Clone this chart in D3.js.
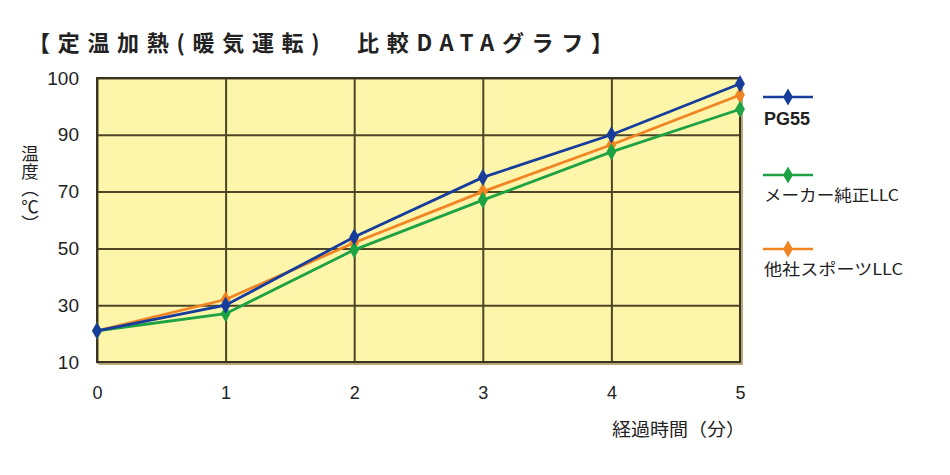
<!DOCTYPE html>
<html>
<head>
<meta charset="utf-8">
<script src="https://cdn.jsdelivr.net/npm/d3@7"></script>
<style>
  body { margin: 0; background: #fff; }
  svg text { font-family: "Liberation Sans", Arial, "Noto Sans CJK JP", sans-serif; fill: #222; }
  .jp { font-family: "Noto Sans CJK JP", sans-serif; }
</style>
</head>
<body>
<svg width="950" height="475"></svg>
<script>
// data
var minutes = [0, 1, 2, 3, 4, 5];
var yTicks = [10, 30, 50, 70, 90, 100];
var pg55 = [21, 30, 54, 75, 90, 99];
var makerLLC = [21, 27, 49.5, 67, 84, 94.5];
var sportsLLC = [21, 32, 52, 70, 86.5, 97];

var seriesNames = ["PG55", "メーカー純正LLC", "他社スポーツLLC"];
var seriesColors = ["#173d9c", "#1ea344", "#f18423"];

var svg = d3.select("svg"),
    margin = {top: 78, right: 210, bottom: 113, left: 97},
    width = 950 - margin.left - margin.right,
    height = 475 - margin.top - margin.bottom,
    g = svg.append("g").attr("transform", "translate(" + margin.left + "," + margin.top + ")");

// title
svg.append("text")
    .attr("class", "jp")
    .attr("x", 28)
    .attr("y", 51)
    .attr("textLength", 585)
    .attr("lengthAdjust", "spacing")
    .style("font-size", "22px")
    .style("font-weight", "bold")
    .text("【定温加熱(暖気運転)　比較DATAグラフ】");

var x = d3.scaleLinear().domain([0, 5]).range([0, width]);
// the gridlines are evenly spaced even though the top step is only 10
var y = d3.scaleLinear()
    .domain(yTicks)
    .range(yTicks.map(function(d, i) { return height - i * height / (yTicks.length - 1); }));

// plot background
g.append("rect")
    .attr("width", width)
    .attr("height", height)
    .attr("fill", "#fdf5aa");

// horizontal gridlines
g.append("g")
    .attr("class", "grid")
    .call(d3.axisLeft(y).tickValues(yTicks).tickSize(-width).tickFormat(""))
    .call(function(s) { s.select(".domain").remove(); })
    .selectAll("line")
      .attr("stroke", "#4d4526")
      .attr("stroke-width", 2);

// vertical gridlines
g.append("g")
    .attr("class", "grid")
    .attr("transform", "translate(0," + height + ")")
    .call(d3.axisBottom(x).tickValues(minutes).tickSize(-height).tickFormat(""))
    .call(function(s) { s.select(".domain").remove(); })
    .selectAll("line")
      .attr("stroke", "#4d4526")
      .attr("stroke-width", 2);

// frame
g.append("rect")
    .attr("width", width)
    .attr("height", height)
    .attr("fill", "none")
    .attr("stroke", "#3a3320")
    .attr("stroke-width", 2);
g.append("path")
    .attr("d", "M" + (width + 2) + ",2V" + (height + 2) + "H2")
    .attr("fill", "none")
    .attr("stroke", "#b8a878")
    .attr("stroke-width", 2);

// y tick labels
g.append("g")
    .call(d3.axisLeft(y).tickValues(yTicks).tickSize(0).tickPadding(18))
    .call(function(s) { s.select(".domain").remove(); })
    .selectAll("text")
      .style("font-size", "19px")
      .style("font-family", "'Liberation Sans', Arial, sans-serif")
      .attr("fill", "#222");

// x tick labels
g.append("g")
    .attr("transform", "translate(0," + height + ")")
    .call(d3.axisBottom(x).tickValues(minutes).tickSize(0).tickPadding(24).tickFormat(d3.format("d")))
    .call(function(s) { s.select(".domain").remove(); })
    .selectAll("text")
      .style("font-size", "18px")
      .style("font-family", "'Liberation Sans', Arial, sans-serif")
      .attr("fill", "#222");

// axis titles
svg.append("text")
    .attr("class", "jp")
    .attr("x", 612)
    .attr("y", 436)
    .attr("textLength", 133)
    .attr("lengthAdjust", "spacingAndGlyphs")
    .style("font-size", "18px")
    .text("経過時間（分）");

svg.append("text")
    .attr("class", "jp")
    .attr("x", 30)
    .attr("y", 145)
    .style("writing-mode", "vertical-rl")
    .style("font-size", "17.5px")
    .text("温度（℃）");

var line = d3.line()
    .x(function(d, i) { return x(minutes[i]); })
    .y(function(d) { return y(d); });

var diamond = d3.symbol().type(d3.symbolDiamond).size(85);

var allSeries = [pg55, makerLLC, sportsLLC];
var drawOrder = [2, 1, 0];

drawOrder.forEach(function(k) {
  var s = g.append("g");
  s.append("path")
      .attr("d", line(allSeries[k]))
      .attr("fill", "none")
      .attr("stroke", seriesColors[k])
      .attr("stroke-width", 2.8);
  s.selectAll("path.pt")
      .data(allSeries[k])
    .enter().append("path")
      .attr("class", "pt")
      .attr("d", diamond)
      .attr("transform", function(d, i) { return "translate(" + x(minutes[i]) + "," + y(d) + ")"; })
      .attr("fill", seriesColors[k]);
});

// legend
var legendY = [97, 175, 249];
var legendW = [null, 135, 139];
var legend = svg.selectAll(".legend")
    .data(seriesNames)
  .enter().append("g")
    .attr("class", "legend")
    .attr("transform", function(d, i) { return "translate(763," + legendY[i] + ")"; });

legend.append("line")
    .attr("x1", 0)
    .attr("x2", 50)
    .attr("stroke", function(d, i) { return seriesColors[i]; })
    .attr("stroke-width", 2.5);
legend.append("path")
    .attr("d", diamond)
    .attr("transform", "translate(25,0)")
    .attr("fill", function(d, i) { return seriesColors[i]; });
legend.append("text")
    .attr("x", 1)
    .attr("y", function(d, i) { return i === 0 ? 28 : 26; })
    .attr("class", function(d, i) { return i === 0 ? "" : "jp"; })
    .attr("textLength", function(d, i) { return legendW[i]; })
    .attr("lengthAdjust", "spacingAndGlyphs")
    .style("font-size", function(d, i) { return i === 0 ? "18px" : "16px"; })
    .style("font-weight", function(d, i) { return i === 0 ? "bold" : "normal"; })
    .text(function(d) { return d; });
</script>
</body>
</html>
